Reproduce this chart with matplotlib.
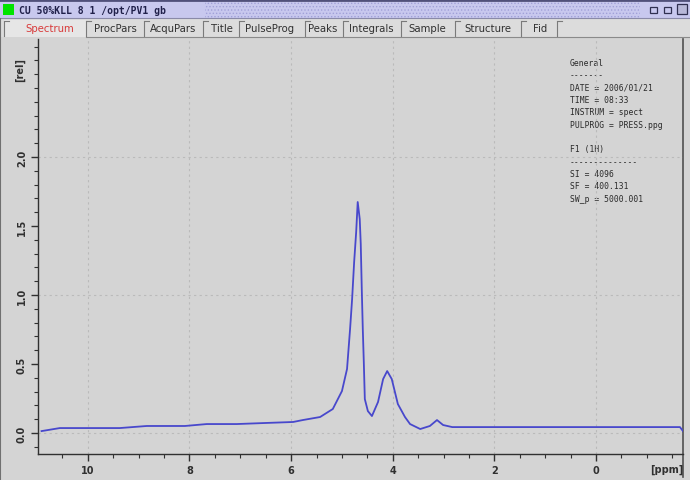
import matplotlib
matplotlib.use('Agg')
import matplotlib.pyplot as plt
from matplotlib.patches import Rectangle
from matplotlib.ticker import MultipleLocator

# spectrum (ppm, relative intensity)
ppm = [10.91, 10.55, 9.37, 8.84, 8.09, 7.66, 7.07, 6.56, 5.96, 5.77, 5.43, 5.18,
       5.00, 4.90, 4.84, 4.80, 4.76, 4.72, 4.69, 4.65, 4.63, 4.61, 4.59, 4.57,
       4.55, 4.49, 4.41, 4.29, 4.19, 4.11, 4.02, 3.90, 3.76, 3.66, 3.46, 3.27,
       3.13, 3.01, 2.83, -1.65, -1.71]
intensity = [0.014, 0.036, 0.036, 0.051, 0.051, 0.065, 0.065, 0.072, 0.080, 0.094, 0.116, 0.174,
             0.304, 0.464, 0.754, 0.971, 1.239, 1.457, 1.674, 1.55, 1.37, 1.043, 0.754, 0.514,
             0.246, 0.159, 0.123, 0.225, 0.391, 0.449, 0.391, 0.210, 0.116, 0.065, 0.029, 0.051,
             0.094, 0.058, 0.043, 0.043, 0.014]

x_ticks = [10, 8, 6, 4, 2, 0]
y_ticks = [0.0, 0.5, 1.0, 1.5, 2.0]
grid_y = [0.0, 1.0, 2.0]

tabs = ['Spectrum', 'ProcPars', 'AcquPars', 'Title', 'PulseProg', 'Peaks',
        'Integrals', 'Sample', 'Structure', 'Fid']
tab_centers = [50, 115, 173, 222, 270, 323, 371, 427, 488, 540]
tab_edges = [4, 86, 144, 203, 239, 305, 343, 401, 455, 521, 557]

info_lines = ['General', '-------', 'DATE = 2006/01/21', 'TIME = 08:33',
              'INSTRUM = spect', 'PULPROG = PRESS.ppg', '',
              'F1 (1H)', '--------------', 'SI = 4096', 'SF = 400.131',
              'SW_p = 5000.001']

title = 'CU 50%KLL 8 1 /opt/PV1 gb'

W, H = 690, 481
bg_col = '#d4d4d4'
fig = plt.figure(figsize=(W / 100, H / 100), dpi=100, facecolor=bg_col)

# window chrome in pixel coordinates
bg = fig.add_axes([0, 0, 1, 1])
bg.set_xlim(0, W)
bg.set_ylim(H, 0)
bg.axis('off')

plt.rcParams['hatch.linewidth'] = 0.6
bg.add_patch(Rectangle((0, 0), W, 19, facecolor='#c8c8ee', edgecolor='none', lw=0))
bg.add_patch(Rectangle((205, 0), 435, 19, facecolor='none', edgecolor='#a0a0d8',
                       hatch='.....', lw=0))
bg.plot([0, W], [1, 1], color='#50507a', lw=2)
bg.plot([0, W], [19, 19], color='#8a8aa8', lw=0.8)
bg.add_patch(Rectangle((3, 5), 11, 11, facecolor='#00e400', edgecolor='none'))
bg.text(19, 10.5, title, fontsize=7, family='DejaVu Sans Mono', weight='bold',
        color='#20204a', va='center', ha='left')
for ix in [650, 664]:
    bg.add_patch(Rectangle((ix, 8), 7, 6, facecolor='none', edgecolor='#303050', lw=0.9))
bg.add_patch(Rectangle((677, 5), 10, 10, facecolor='#b8b8d8', edgecolor='#303050', lw=0.9))

# tab row
bg.add_patch(Rectangle((0, 20), W, 18, facecolor='#dcdcdc', edgecolor='none'))
bg.add_patch(Rectangle((4, 21), 82, 17, facecolor='#e6e6e6', edgecolor='none'))
for e in tab_edges:
    bg.plot([e, e], [22, 37], color='#7a7a7a', lw=0.8)
    bg.plot([e + 1, e + 5], [22, 22], color='#7a7a7a', lw=0.8)
bg.plot([86, W], [38, 38], color='#8a8a8a', lw=0.8)
for name, cx in zip(tabs, tab_centers):
    bg.text(cx, 29.5, name, fontsize=7.3, color='#d83a3a' if name == 'Spectrum' else '#303030',
            ha='center', va='center')

# plot panel
bg.add_patch(Rectangle((0, 39), W, H - 39, facecolor=bg_col, edgecolor='none'))
bg.plot([683, 683], [40, 478], color='#505050', lw=1.2)
bg.plot([0, 0], [20, H], color='#707070', lw=1.5)
bg.text(20, 70, '[rel]', rotation=90, fontsize=7, weight='bold', color='#303030',
        ha='center', va='center')
bg.text(667, 470, '[ppm]', fontsize=7, weight='bold', color='#303030',
        ha='center', va='center')
for i, line in enumerate(info_lines):
    bg.text(570, 63 + i * 12.4, line, fontsize=5.8, family='DejaVu Sans Mono',
            color='#2a2a2a', ha='left', va='center')

# spectrum axes
ax = fig.add_axes([38 / W, 1 - 455 / H, (683 - 38) / W, (455 - 40) / H])
ax.set_facecolor('none')
ax.plot(ppm, intensity, color='#4848cc', lw=1.3, zorder=3)
ax.set_xlim(10.98, -1.71)
ax.set_ylim(-0.152, 2.855)

for g in x_ticks:
    ax.axvline(g, color='#bababa', lw=0.8, ls=(0, (2, 3)), zorder=1)
for g in grid_y:
    ax.axhline(g, color='#bababa', lw=0.8, ls=(0, (2, 3)), zorder=1)

ax.set_xticks(x_ticks)
ax.set_yticks(y_ticks)
ax.set_yticklabels([f'{v:.1f}' for v in y_ticks])
ax.xaxis.set_minor_locator(MultipleLocator(0.5))
ax.yaxis.set_minor_locator(MultipleLocator(0.1))
ax.tick_params(axis='both', which='major', length=5, width=1, color='#303030',
               labelsize=7, labelcolor='#303030')
ax.tick_params(axis='both', which='minor', length=3, width=0.8, color='#303030')
ax.tick_params(axis='y', pad=3)
ax.tick_params(axis='x', pad=3)
for lbl in ax.get_yticklabels():
    lbl.set_rotation(90)
    lbl.set_va('center')
    lbl.set_weight('bold')
for lbl in ax.get_xticklabels():
    lbl.set_weight('bold')

for s in ['top', 'right']:
    ax.spines[s].set_visible(False)
for s in ['left', 'bottom']:
    ax.spines[s].set_color('#303030')
    ax.spines[s].set_linewidth(1)

fig.savefig('out.png', dpi=100, facecolor=bg_col)
